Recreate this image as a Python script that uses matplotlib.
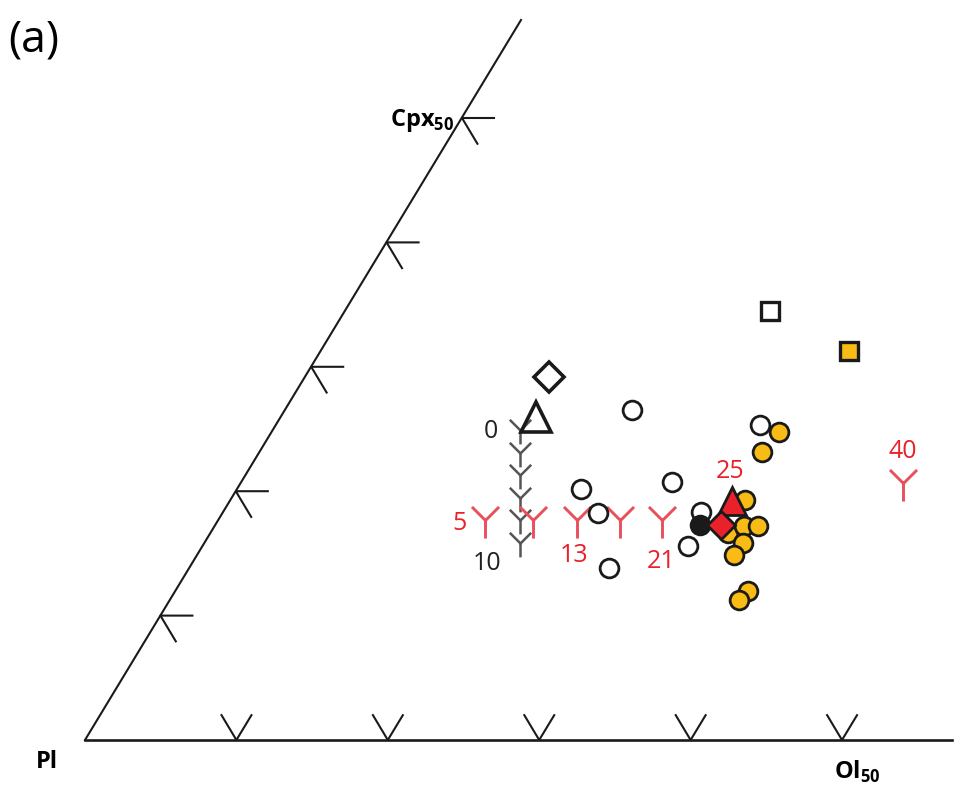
import numpy as np
import matplotlib.pyplot as plt
from matplotlib.path import Path

plt.rcParams['font.family'] = ['Open Sans', 'DejaVu Sans']
plt.rcParams['mathtext.fontset'] = 'custom'
plt.rcParams['mathtext.bf'] = 'Open Sans:bold'
plt.rcParams['mathtext.rm'] = 'Open Sans'

# diagram frame, in drawing units (y grows downwards like the source figure)
pl_corner = (85, 740)
cpx50_pt = (462, 118)
ol50_pt = (842, 740)
apex = (521, 20)
base_end = 952
n_ticks = 5

# samples
open_circ_x = [632, 581, 598, 609, 672, 688, 701, 760]
open_circ_y = [410, 489, 513, 568, 482, 546, 512, 425]
yellow_x = [728, 779, 762, 745, 744, 758, 743, 734, 748, 739]
yellow_y = [533, 432, 452, 500, 526, 526, 543, 555, 591, 600]
black_circ = (700, 525)
open_tri = (536, 417)
open_diam = (549, 377)
open_sq = (770, 311)
yellow_sq = (849, 351)
red_tri = (732, 501)
red_diam = (721, 525)

# model paths
gray_y_x = [520, 520, 520, 520, 520, 520]
gray_y_y = [430, 453, 475, 498, 520, 543]
gray_labels = ['0', '10']
red_y_x = [485, 533, 577, 620, 662, 903]
red_y_y = [520, 520, 520, 520, 520, 483]
red_labels = ['5', '13', '21', '25', '40']

yellow = '#F9BC15'
red = '#E8212B'
pink = '#E8505B'
gray = '#555555'

def y_marker(arm):
    verts = [(0, 0), (0, -1), (0, 0), (-arm, arm), (0, 0), (arm, arm)]
    codes = [Path.MOVETO, Path.LINETO] * 3
    return Path(verts, codes)

fig = plt.figure(figsize=(9.64, 7.98), dpi=100)
ax = fig.add_axes([0, 0, 1, 1])
ax.set_xlim(0, 964)
ax.set_ylim(798, 0)
ax.axis('off')

# triangle edges
ax.plot([pl_corner[0], apex[0]], [pl_corner[1], apex[1]], color='#1a1a1a', lw=1.5)
ax.plot([pl_corner[0], base_end], [pl_corner[1], pl_corner[1]], color='#1a1a1a', lw=1.9)

# ternary ticks
left_dir = np.array([apex[0] - pl_corner[0], apex[1] - pl_corner[1]], float)
left_dir /= np.linalg.norm(left_dir)
right_dir = np.array([base_end - apex[0], pl_corner[1] - apex[1]], float)
right_dir /= np.linalg.norm(right_dir)
for k in range(1, n_ticks + 1):
    f = k / n_ticks
    lx = pl_corner[0] + f * (cpx50_pt[0] - pl_corner[0])
    ly = pl_corner[1] + f * (cpx50_pt[1] - pl_corner[1])
    ax.plot([lx + 32, lx, lx + 30 * right_dir[0]], [ly, ly, ly + 30 * right_dir[1]],
            color='#1a1a1a', lw=1.5)
    bx = pl_corner[0] + f * (ol50_pt[0] - pl_corner[0])
    by = pl_corner[1]
    ax.plot([bx - 29 * right_dir[0], bx, bx + 29 * left_dir[0]],
            [by - 29 * right_dir[1], by, by + 29 * left_dir[1]],
            color='#1a1a1a', lw=1.5)

# corner labels
ax.text(cpx50_pt[0] - 8, cpx50_pt[1] + 2, r'$\mathbf{Cpx}_{\mathbf{50}}$', fontsize=17,
        ha='right', va='center')
ax.text(36, 762, 'Pl', fontsize=17, fontweight='bold', ha='left', va='center')
ax.text(834, 772, r'$\mathbf{Ol}_{\mathbf{50}}$', fontsize=17, ha='left', va='center')
ax.text(8, 40, '(a)', fontsize=32, ha='left', va='center')

# model paths
ax.plot(gray_y_x, gray_y_y, linestyle='none', marker=y_marker(0.77), ms=20,
        mew=1.8, color=gray, zorder=3)
ax.text(491, 432, gray_labels[0], fontsize=18, color='#222222', ha='center', va='center')
ax.text(487, 563, gray_labels[1], fontsize=18, color='#222222', ha='center', va='center')
ax.plot(red_y_x, red_y_y, linestyle='none', marker=y_marker(0.75), ms=26,
        mew=2.1, color=pink, zorder=4)
ax.text(460, 524, red_labels[0], fontsize=18, color=red, ha='center', va='center')
ax.text(574, 555, red_labels[1], fontsize=18, color=red, ha='center', va='center')
ax.text(661, 562, red_labels[2], fontsize=18, color=red, ha='center', va='center')
ax.text(730, 472, red_labels[3], fontsize=18, color=red, ha='center', va='center')
ax.text(903, 452, red_labels[4], fontsize=18, color=red, ha='center', va='center')

# samples
ax.plot(open_circ_x, open_circ_y, 'o', ms=13.5, mew=2, mfc='white', mec='#1a1a1a', zorder=5)
ax.plot(yellow_x, yellow_y, 'o', ms=13.5, mew=2, mfc=yellow, mec='#1a1a1a', zorder=6)
ax.plot(*black_circ, 'o', ms=13.5, mew=2, mfc='#1a1a1a', mec='#1a1a1a', zorder=7)
ax.plot(*open_tri, '^', ms=22, mew=2.6, mfc='none', mec='#1a1a1a', zorder=6)
ax.plot(*open_diam, 'D', ms=15, mew=2.6, mfc='white', mec='#1a1a1a', zorder=6)
ax.plot(*open_sq, 's', ms=13.5, mew=2.4, mfc='white', mec='#1a1a1a', zorder=6)
ax.plot(*yellow_sq, 's', ms=13.5, mew=2.4, mfc=yellow, mec='#1a1a1a', zorder=6)
ax.plot(*red_tri, '^', ms=20, mew=2, mfc=red, mec='#1a1a1a', zorder=8)
ax.plot(*red_diam, 'D', ms=14, mew=2, mfc=red, mec='#1a1a1a', zorder=9)

fig.savefig('out.png', dpi=100)
